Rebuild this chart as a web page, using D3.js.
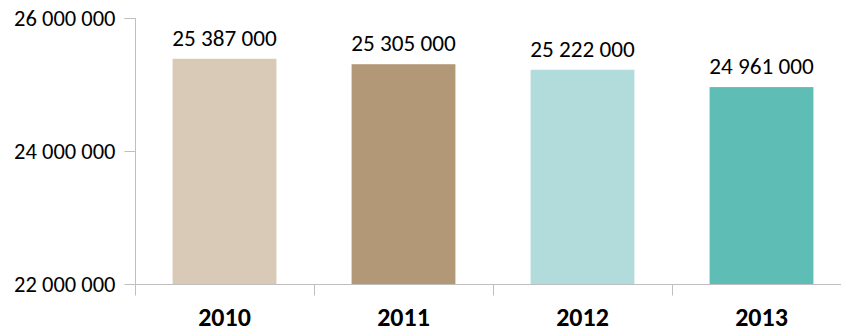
<!DOCTYPE html>
<html><head><meta charset="utf-8">
<script src="https://cdn.jsdelivr.net/npm/d3@7"></script>
<style>body{margin:0;background:#fff}svg{display:block}text{font-family:Calibri,Carlito,Lato,sans-serif}</style>
</head><body>
<svg id="c" width="841" height="332"></svg>
<script>
const categories = ["2010","2011","2012","2013"];
const values = [25387000,25305000,25222000,24961000];
const colors = ["#D9C9B7","#B39877","#B2DCDB","#5EBDB4"];
const yTicks = [22000000,24000000,26000000];

const svg = d3.select("#c");
const x0 = 135, x1 = 851, yTop = 18, yBot = 284;
const x = d3.scaleBand().domain(categories).range([x0,x1]).paddingInner(0.42).paddingOuter(0.21);
const y = d3.scaleLinear().domain([22000000,26000000]).range([yBot,yTop]);
const fmt = v => d3.format(",")(v).replace(/,/g," ");

// bars
svg.selectAll("rect.bar").data(values).join("rect")
  .attr("x",(d,i)=>x(categories[i])).attr("width",x.bandwidth())
  .attr("y",d=>y(d)).attr("height",d=>yBot-y(d)).attr("fill",(d,i)=>colors[i]);

// y axis
const ya = svg.append("g").attr("transform",`translate(${x0+0.5},0)`)
  .call(d3.axisLeft(y).tickValues(yTicks).tickSize(11).tickPadding(9).tickFormat(fmt));
ya.select(".domain").attr("stroke","#BFBFBF").attr("d",`M-11,${yTop+0.5}H0V${yBot+0.5}`);
ya.selectAll(".tick line").attr("stroke","#BFBFBF");
ya.selectAll(".tick text").attr("font-size",22.5).attr("fill","#000");

// x axis
const xa = svg.append("g").attr("transform",`translate(0,${yBot+0.5})`);
xa.append("line").attr("x1",x0).attr("x2",x1).attr("stroke","#BFBFBF");
const bounds = [x0, ...categories.map(c=>x(c)+x.bandwidth()+x.step()*x.paddingInner()/2)];
xa.selectAll("line.t").data(bounds).join("line").attr("class","t")
  .attr("x1",d=>Math.round(d)+0.5).attr("x2",d=>Math.round(d)+0.5).attr("y1",0).attr("y2",11).attr("stroke","#BFBFBF");
xa.selectAll("text").data(categories).join("text")
  .attr("x",d=>x(d)+x.bandwidth()/2).attr("y",41.5).attr("text-anchor","middle")
  .attr("font-size",26).attr("font-weight","bold").attr("fill","#000").text(d=>d);

// value labels
svg.selectAll("text.v").data(values).join("text").attr("class","v")
  .attr("x",(d,i)=>x(categories[i])+x.bandwidth()/2).attr("y",d=>y(d)-13)
  .attr("text-anchor","middle").attr("font-size",23.2).attr("fill","#000").text(fmt);
</script>
</body></html>
